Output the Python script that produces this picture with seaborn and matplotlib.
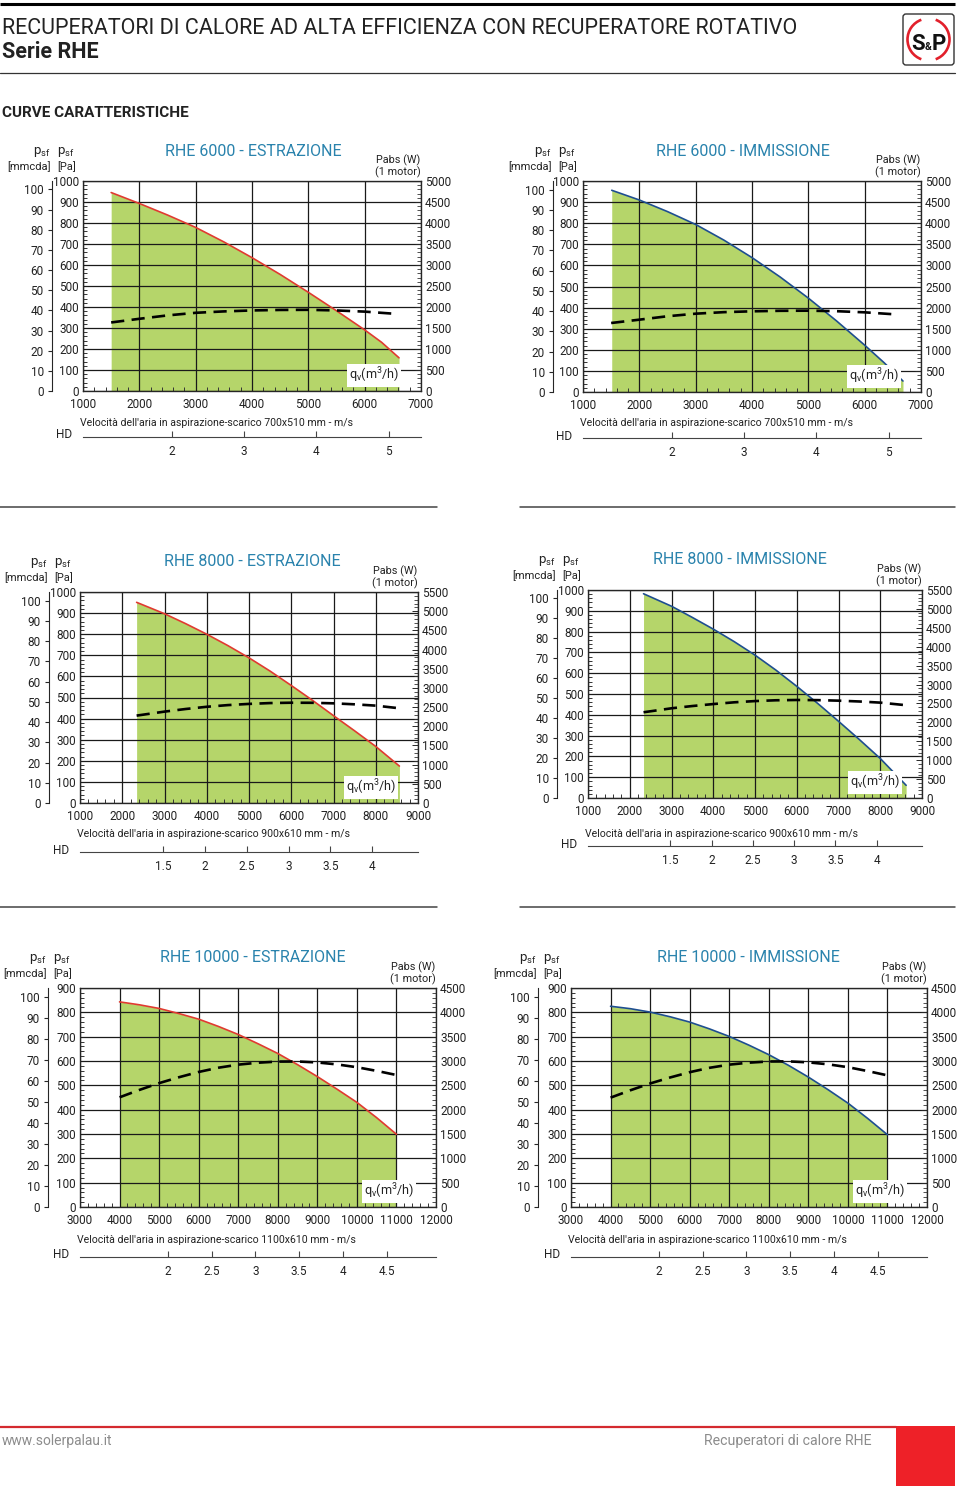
import matplotlib
matplotlib.use('Agg')
import matplotlib.pyplot as plt
import seaborn as sns
from matplotlib.patches import Rectangle, FancyBboxPatch, Arc
from matplotlib.ticker import MultipleLocator, FuncFormatter

sns.set_style('ticks')
plt.rcParams['font.family'] = ['Roboto', 'DejaVu Sans']

W, H = 960, 1486

# ---- data (flow m3/h, pressure Pa, power W) ----
titles = ['RHE 6000 - ESTRAZIONE', 'RHE 6000 - IMMISSIONE',
          'RHE 8000 - ESTRAZIONE', 'RHE 8000 - IMMISSIONE',
          'RHE 10000 - ESTRAZIONE', 'RHE 10000 - IMMISSIONE']
duct_sizes = ['700x510', '700x510', '900x610', '900x610', '1100x610', '1100x610']

x_ranges = [(1000, 7000), (1000, 7000), (1000, 9000), (1000, 9000), (3000, 12000), (3000, 12000)]
pa_max = [1000, 1000, 1000, 1000, 900, 900]
w_max = [5000, 5000, 5500, 5500, 4500, 4500]
hd_ranges = [(0.77, 5.45), (0.77, 5.45), (0.50, 4.55), (0.50, 4.55), (1.0, 5.06), (1.0, 5.06)]
hd_ticks = [[2, 3, 4, 5], [2, 3, 4, 5],
            [1.5, 2, 2.5, 3, 3.5, 4], [1.5, 2, 2.5, 3, 3.5, 4],
            [2, 2.5, 3, 3.5, 4, 4.5], [2, 2.5, 3, 3.5, 4, 4.5]]

q_6000_e = [1500, 2000, 2500, 3000, 3500, 4000, 4500, 5000, 5500, 6000, 6300, 6610]
pa_6000_e = [945, 893, 838, 779, 710, 635, 555, 470, 382, 291, 232, 158]
qw_6000_e = [1500, 2000, 2500, 3000, 3500, 4000, 4500, 5000, 5500, 6000, 6540]
w_6000_e = [1632, 1719, 1800, 1862, 1895, 1918, 1930, 1933, 1918, 1890, 1838]

q_6000_i = [1510, 2000, 2500, 3000, 3500, 4000, 4500, 5000, 5500, 6000, 6340, 6680]
pa_6000_i = [956, 910, 855, 794, 720, 637, 545, 445, 337, 222, 140, 52]
qw_6000_i = [1500, 2000, 2500, 3000, 3500, 4000, 4500, 5000, 5500, 6000, 6540]
w_6000_i = [1635, 1714, 1795, 1856, 1892, 1912, 1924, 1927, 1915, 1888, 1840]

q_8000_e = [2340, 3000, 3500, 4000, 4500, 5000, 5500, 6000, 6500, 7000, 7500, 8000, 8560]
pa_8000_e = [951, 897, 850, 800, 746, 688, 625, 557, 487, 414, 342, 268, 175]
qw_8000_e = [2340, 3000, 3500, 4000, 4500, 5000, 5500, 6000, 6500, 7000, 7500, 8000, 8560]
w_8000_e = [2278, 2382, 2450, 2508, 2552, 2583, 2605, 2614, 2612, 2598, 2572, 2538, 2469]

q_8000_i = [2330, 3000, 3500, 4000, 4500, 5000, 5500, 6000, 6500, 7000, 7500, 8000, 8620]
pa_8000_i = [982, 922, 868, 812, 752, 687, 615, 537, 455, 369, 281, 190, 61]
qw_8000_i = [2330, 3000, 3500, 4000, 4500, 5000, 5500, 6000, 6500, 7000, 7500, 8000, 8560]
w_8000_i = [2267, 2372, 2432, 2484, 2530, 2563, 2584, 2592, 2588, 2574, 2552, 2522, 2460]

q_10000_e = [4000, 4500, 5000, 5500, 6000, 6500, 7000, 7500, 8000, 8500, 9000, 9500, 10000, 10500, 11000]
pa_10000_e = [843, 831, 816, 795, 772, 742, 709, 671, 631, 585, 536, 484, 430, 367, 299]
qw_10000_e = [4000, 4500, 5000, 5500, 6000, 6500, 7000, 7500, 8000, 8500, 9000, 9500, 10000, 10500, 11000]
w_10000_e = [2254, 2405, 2545, 2666, 2775, 2862, 2925, 2965, 2988, 2990, 2970, 2930, 2872, 2797, 2712]

q_10000_i = [4000, 4500, 5000, 5500, 6000, 6500, 7000, 7500, 8000, 8500, 9000, 9500, 10000, 10500, 11000]
pa_10000_i = [825, 815, 801, 782, 760, 732, 701, 665, 626, 582, 534, 482, 427, 364, 297]
qw_10000_i = [4000, 4500, 5000, 5500, 6000, 6500, 7000, 7500, 8000, 8500, 9000, 9500, 10000, 10500, 11000]
w_10000_i = [2247, 2398, 2538, 2660, 2770, 2860, 2925, 2966, 2990, 2992, 2972, 2932, 2873, 2793, 2705]

curves = [(q_6000_e, pa_6000_e, qw_6000_e, w_6000_e),
          (q_6000_i, pa_6000_i, qw_6000_i, w_6000_i),
          (q_8000_e, pa_8000_e, qw_8000_e, w_8000_e),
          (q_8000_i, pa_8000_i, qw_8000_i, w_8000_i),
          (q_10000_e, pa_10000_e, qw_10000_e, w_10000_e),
          (q_10000_i, pa_10000_i, qw_10000_i, w_10000_i)]

# ---- page layout in pixels ----
layout = [
    dict(plot=(83, 181, 421, 391), mm_x=52, title_x=253, vel_y=423, hd_y=437),
    dict(plot=(583, 181, 921, 392), mm_x=553, title_x=743, vel_y=423, hd_y=438),
    dict(plot=(80, 592, 418, 803), mm_x=49, title_x=252, vel_y=834, hd_y=852),
    dict(plot=(588, 590, 922, 798), mm_x=557, title_x=740, vel_y=834, hd_y=846),
    dict(plot=(80, 988, 436, 1207), mm_x=48, title_x=253, vel_y=1240, hd_y=1257),
    dict(plot=(571, 988, 927, 1207), mm_x=538, title_x=748, vel_y=1240, hd_y=1257),
]

GREEN = '#b5d56a'
RED = '#e03a30'
NAVY = '#1e4e8f'
TEAL = '#2a83ad'
INK = '#222222'
FS = 8.5


def fig_box(x0, y0, x1, y1):
    return [x0 / W, 1 - y1 / H, (x1 - x0) / W, (y1 - y0) / H]


fig = plt.figure(figsize=(W / 100, H / 100), dpi=100)

ov = fig.add_axes([0, 0, 1, 1], zorder=10)
ov.set_xlim(0, W)
ov.set_ylim(H, 0)
ov.axis('off')
ov.patch.set_alpha(0)

fmt = FuncFormatter(lambda v, _: f'{v:g}')

for i, lay in enumerate(layout):
    x0, y0, x1, y1 = lay['plot']
    q, pa, qw, w = curves[i]
    curve_col = RED if 'ESTRAZIONE' in titles[i] else NAVY

    ax = fig.add_axes(fig_box(x0, y0, x1, y1))
    ax.fill_between(q, pa, 0, color=GREEN, lw=0, zorder=1)
    sns.lineplot(x=q, y=pa, ax=ax, color=curve_col, lw=1.2, estimator=None,
                 errorbar=None, zorder=4)
    ax.set_xlim(*x_ranges[i])
    ax.set_ylim(0, pa_max[i])
    ax.set_xticks(range(x_ranges[i][0], x_ranges[i][1] + 1, 1000))
    ax.set_yticks(range(0, pa_max[i] + 1, 100))
    ax.xaxis.set_minor_locator(MultipleLocator(200))
    ax.yaxis.set_minor_locator(MultipleLocator(20))
    ax.set_axisbelow(False)
    ax.grid(True, which='major', color='#1a1a1a', lw=0.9, zorder=2)
    ax.tick_params(which='major', length=0, labelsize=FS, labelcolor=INK)
    ax.tick_params(axis='x', which='major', pad=5)
    ax.tick_params(axis='y', which='major', pad=3)
    ax.tick_params(which='minor', direction='in', length=3.2, width=0.7, color='#333')
    for s in ax.spines.values():
        s.set_linewidth(0.9)
        s.set_color('#1a1a1a')

    ax2 = ax.twinx()
    sns.lineplot(x=qw, y=w, ax=ax2, color='black', lw=1.9, estimator=None,
                 errorbar=None, linestyle=(0, (5, 2.8)))
    ax2.set_ylim(0, w_max[i])
    ax2.yaxis.set_major_locator(MultipleLocator(500))
    ax2.yaxis.set_minor_locator(MultipleLocator(100))
    ax2.tick_params(which='major', direction='in', length=4, width=0.7, pad=3,
                    labelsize=FS, labelcolor=INK)
    ax2.tick_params(which='minor', direction='in', length=3, width=0.6, color='#333')
    ax2.grid(False)

    # mmcda scale
    am = fig.add_axes(fig_box(lay['mm_x'], y0, lay['mm_x'] + 0.5, y1))
    am.set_ylim(0, 104.2)
    am.set_yticks(range(0, 101, 10))
    am.set_xticks([])
    for s in ['top', 'right', 'bottom']:
        am.spines[s].set_visible(False)
    am.spines['left'].set_linewidth(0.8)
    am.patch.set_alpha(0)
    am.tick_params(axis='y', direction='out', length=3, width=0.8, pad=3,
                   labelsize=FS, labelcolor=INK)

    # air velocity scale
    ah = fig.add_axes(fig_box(x0, lay['hd_y'] - 8, x1, lay['hd_y']))
    ah.set_xlim(*hd_ranges[i])
    ah.set_xticks(hd_ticks[i])
    ah.xaxis.set_major_formatter(fmt)
    ah.set_yticks([])
    for s in ['top', 'right', 'left']:
        ah.spines[s].set_visible(False)
    ah.spines['bottom'].set_color('#444')
    ah.spines['bottom'].set_linewidth(0.8)
    ah.patch.set_alpha(0)
    ah.tick_params(axis='x', direction='in', length=4, width=0.8, color='#444',
                   pad=6, labelsize=FS, labelcolor=INK)

    # texts around the chart
    mx = lay['mm_x']
    ov.text(lay['title_x'], y0 - 30, titles[i], color=TEAL, fontsize=11.5,
            ha='center', va='center')
    ov.text(mx - 1, y0 - 29, r'p$_\mathregular{sf}$', fontsize=9.5, ha='right', va='center', color=INK)
    ov.text(mx + 5, y0 - 29, r'p$_\mathregular{sf}$', fontsize=9.5, ha='left', va='center', color=INK)
    ov.text(mx - 1, y0 - 14, '[mmcda]', fontsize=8, ha='right', va='center', color=INK)
    ov.text(mx + 5, y0 - 14, '[Pa]', fontsize=8, ha='left', va='center', color=INK)
    ov.text(x1 - 1, y0 - 21, 'Pabs (W)', fontsize=7.8, ha='right', va='center', color=INK)
    ov.text(x1, y0 - 9, '(1 motor)', fontsize=7.8, ha='right', va='center', color=INK)
    ov.text(x1 - 22, y1 - 6, r'q$_\mathregular{v}$(m$^\mathregular{3}$/h)', fontsize=9,
            ha='right', va='bottom', color=INK,
            bbox=dict(fc='white', ec='none', pad=1.2))
    ov.text(x0 - 3, lay['vel_y'],
            f"Velocità dell'aria in aspirazione-scarico {duct_sizes[i]} mm - m/s",
            fontsize=7.6, ha='left', va='center', color=INK)
    ov.text(x0 - 19, lay['hd_y'] - 2, 'HD', fontsize=8.5, ha='center', va='center', color=INK)

# ---- page header ----
ov.plot([0, 955], [4, 4], color='black', lw=2.2, solid_capstyle='butt')
ov.plot([0, 955], [73, 73], color='#333333', lw=0.9)
ov.text(2, 28, 'RECUPERATORI DI CALORE AD ALTA EFFICIENZA CON RECUPERATORE ROTATIVO',
        fontsize=15.5, ha='left', va='center', color=INK)
ov.text(2, 52, 'Serie RHE', fontsize=15.5, fontweight='bold', ha='left', va='center', color=INK)
ov.text(2, 113, 'CURVE CARATTERISTICHE', fontsize=11, fontweight='bold',
        ha='left', va='center', color=INK)

# logo
ov.add_patch(FancyBboxPatch((903, 14), 51, 51, boxstyle='round,pad=0,rounding_size=3',
                            fc='white', ec='#333333', lw=1))
ov.add_patch(Arc((928.5, 39.5), 42, 42, theta1=110, theta2=250, color='#e2202b', lw=1.9))
ov.add_patch(Arc((928.5, 39.5), 42, 42, theta1=-70, theta2=70, color='#e2202b', lw=1.9))
ov.text(918.5, 50, 'S', fontsize=16, fontweight='bold', ha='center', va='baseline', color='#111')
ov.text(928.5, 50, '&', fontsize=7.5, fontweight='bold', ha='center', va='baseline', color='#111')
ov.text(938.5, 50, 'P', fontsize=16, fontweight='bold', ha='center', va='baseline', color='#111')

# row separators
for yy in (507, 907):
    ov.plot([0, 437], [yy, yy], color='#444444', lw=1.1)
    ov.plot([520, 955], [yy, yy], color='#444444', lw=1.1)

# ---- footer ----
ov.plot([0, 896], [1427, 1427], color='#d42a2f', lw=1.6)
ov.add_patch(Rectangle((896, 1426), 59, 60, color='#ee2128', lw=0))
ov.text(2, 1441, 'www.solerpalau.it', fontsize=10, ha='left', va='center', color='#8c8c8c')
ov.text(871, 1441, 'Recuperatori di calore RHE', fontsize=10.2, ha='right', va='center',
        color='#8c8c8c')

fig.savefig('out.png', dpi=100)
